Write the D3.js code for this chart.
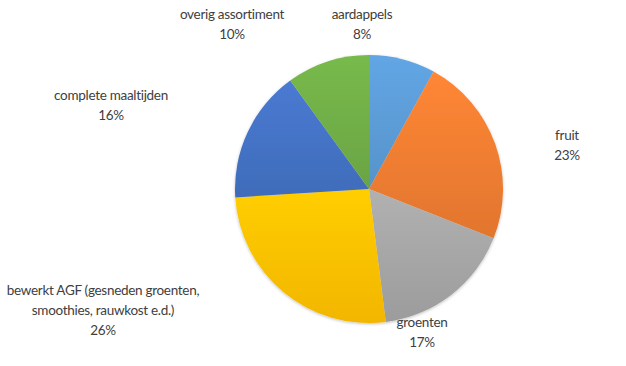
<!DOCTYPE html>
<html>
<head>
<meta charset="utf-8">
<script src="https://cdn.jsdelivr.net/npm/d3@7"></script>
<style>
  html, body { margin: 0; padding: 0; background: #fff; }
  svg { display: block; }
  text { font-family: Lato, "Open Sans", sans-serif; fill: #404040; letter-spacing: -0.3px; }
</style>
</head>
<body>
<svg id="chart" width="626" height="366"></svg>
<script>
// ---- data ----
const categories = ["aardappels", "fruit", "groenten", "bewerkt AGF (gesneden groenten, smoothies, rauwkost e.d.)", "complete maaltijden", "overig assortiment"];
const values = [8, 23, 17, 26, 16, 10];
const labelLines = [
  ["aardappels", "8%"],
  ["fruit", "23%"],
  ["groenten", "17%"],
  ["bewerkt AGF (gesneden groenten,", "smoothies, rauwkost e.d.)", "26%"],
  ["complete maaltijden", "16%"],
  ["overig assortiment", "10%"]
];

// ---- layout / style ----
const colors = ["#5B9BD5", "#ED7D31", "#A5A5A5", "#FFC000", "#4472C4", "#70AD47"];
const cx = 369, cy = 189, r = 134;
const labelPos = [[362, 14], [567, 135], [422, 322], [103, 290], [111, 95], [232, 14]];
const lineH = 20;

const svg = d3.select("#chart");
const defs = svg.append("defs");
colors.forEach((c, i) => {
  const g = defs.append("linearGradient").attr("id", "g" + i)
    .attr("x1", 0).attr("y1", 0).attr("x2", 0).attr("y2", 1);
  g.append("stop").attr("offset", "0%").attr("stop-color", d3.color(c).brighter(0.2));
  g.append("stop").attr("offset", "100%").attr("stop-color", d3.color(c).darker(0.15));
});
const f = defs.append("filter").attr("id", "sh").attr("x", "-10%").attr("y", "-10%").attr("width", "120%").attr("height", "120%");
f.append("feDropShadow").attr("dx", 0).attr("dy", 1).attr("stdDeviation", 1.5).attr("flood-color", "#000").attr("flood-opacity", 0.25);

const pie = d3.pie().sort(null).value(d => d);
const arc = d3.arc().innerRadius(0).outerRadius(r);
const arcs = pie(values);

const g = svg.append("g").attr("transform", `translate(${cx},${cy})`).attr("filter", "url(#sh)");
g.selectAll("path").data(arcs).join("path")
  .attr("d", arc)
  .attr("fill", (d, i) => `url(#g${i})`);

const lg = svg.append("g");
labelLines.forEach((lines, i) => {
  const t = lg.append("text")
    .attr("text-anchor", "middle")
    .attr("font-size", 13.5);
  lines.forEach((l, j) => {
    t.append("tspan").attr("x", labelPos[i][0]).attr("y", labelPos[i][1] + j * lineH)
      .attr("dy", "0.35em").text(l);
  });
});
</script>
</body>
</html>
